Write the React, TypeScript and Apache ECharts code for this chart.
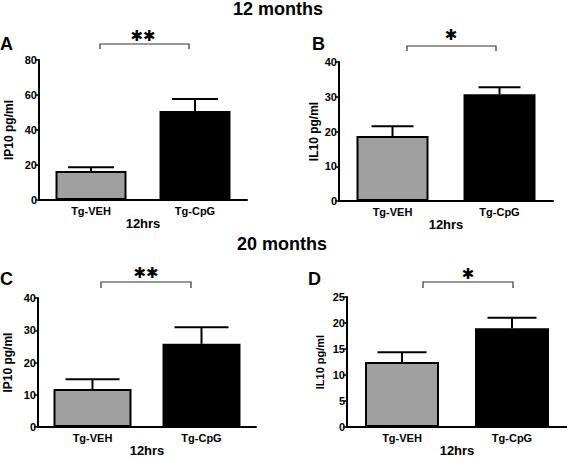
import React, { useEffect, useRef } from "react";
import * as echarts from "echarts";

const categories = ["Tg-VEH", "Tg-CpG"];
const xName = "12hrs";
const panelLetters = ["A", "B", "C", "D"];
const yNames = ["IP10 pg/ml", "IL10 pg/ml", "IP10 pg/ml", "IL10 pg/ml"];
const yMax = [80, 40, 40, 25];
const yInterval = [20, 10, 10, 5];
const meansA = [16.6, 50.9];
const errTopA = [18.7, 57.7];
const meansB = [18.7, 30.7];
const errTopB = [21.5, 32.7];
const meansC = [11.8, 25.8];
const errTopC = [14.8, 30.9];
const meansD = [12.5, 19.0];
const errTopD = [14.4, 21.0];
const significance = ["**", "*", "**", "*"];
const titles = ["12 months", "20 months"];

const FONT = "'Liberation Sans', Arial, sans-serif";

const grids = [
  { left: 39, top: 60, width: 208, height: 140 },
  { left: 339, top: 62, width: 214, height: 139 },
  { left: 38, top: 298, width: 218, height: 139 },
  { left: 347, top: 297, width: 220, height: 139 },
];
const barWidths = [71, 72, 78, 74];
const capWidths = [46, 42, 54, 49];
const yNameGaps = [24, 19, 24, 22];
const yNameSizes = [12, 12, 12, 11];
const brackets = [
  { x1: 100, x2: 189, y: 44, leg: 5, sx: 143, sy: 36 },
  { x1: 407, x2: 496, y: 46, leg: 5, sx: 451, sy: 35 },
  { x1: 101, x2: 191, y: 282, leg: 6, sx: 146, sy: 273 },
  { x1: 423, x2: 513, y: 282, leg: 6, sx: 468, sy: 274 },
];
const letterPos = [
  { x: 0, y: 44 },
  { x: 312, y: 44 },
  { x: 0, y: 279 },
  { x: 308, y: 279 },
];
const titlePos = [
  { x: 278, y: 9 },
  { x: 282, y: 244 },
];

const BAR_COLORS = ["#a0a0a0", "#000000"];

export default function App() {
  const ref = useRef<HTMLDivElement>(null);
  useEffect(() => {
    if (!ref.current) return;
    const chart = echarts.init(ref.current, null, { renderer: "svg" });
    const means = [meansA, meansB, meansC, meansD];
    const tops = [errTopA, errTopB, errTopC, errTopD];

    const xAxis = grids.map((_, i) => ({
      type: "category",
      gridIndex: i,
      data: categories,
      axisLine: { lineStyle: { color: "#000", width: 2 } },
      axisTick: { show: false },
      axisLabel: {
        color: "#000",
        fontWeight: "bold",
        fontSize: 11,
        fontFamily: FONT,
        margin: 5,
      },
      name: xName,
      nameLocation: "middle",
      nameGap: 12,
      nameTextStyle: {
        color: "#000",
        fontWeight: "bold",
        fontSize: 13,
        fontFamily: FONT,
      },
    }));

    const yAxis = grids.map((_, i) => ({
      type: "value",
      gridIndex: i,
      min: 0,
      max: yMax[i],
      interval: yInterval[i],
      splitLine: { show: false },
      axisLine: { show: true, lineStyle: { color: "#000", width: 2 } },
      axisTick: { show: true, length: 4, lineStyle: { color: "#000", width: 1.5 } },
      axisLabel: {
        color: "#000",
        fontWeight: "bold",
        fontSize: 11,
        fontFamily: FONT,
        margin: 2,
      },
      name: yNames[i],
      nameLocation: "middle",
      nameGap: yNameGaps[i],
      nameTextStyle: {
        color: "#000",
        fontWeight: "bold",
        fontSize: yNameSizes[i],
        fontFamily: FONT,
      },
    }));

    const series: any[] = [];
    grids.forEach((_, i) => {
      series.push({
        type: "bar",
        xAxisIndex: i,
        yAxisIndex: i,
        barWidth: barWidths[i],
        data: means[i].map((v, j) => ({
          value: v,
          itemStyle: {
            color: BAR_COLORS[j],
            borderColor: "#000",
            borderWidth: 2,
          },
        })),
        z: 2,
      });
      const cw = capWidths[i];
      series.push({
        type: "custom",
        xAxisIndex: i,
        yAxisIndex: i,
        z: 3,
        encode: { x: 0, y: [1, 2] },
        data: means[i].map((v, j) => [j, v, tops[i][j]]),
        renderItem: (params: any, api: any) => {
          const xi = api.value(0);
          const p0 = api.coord([xi, api.value(1)]);
          const p1 = api.coord([xi, api.value(2)]);
          const st = { stroke: "#000", lineWidth: 2 };
          return {
            type: "group",
            children: [
              {
                type: "line",
                shape: { x1: p0[0], y1: p0[1], x2: p1[0], y2: p1[1] },
                style: st,
              },
              {
                type: "line",
                shape: { x1: p1[0] - cw / 2, y1: p1[1], x2: p1[0] + cw / 2, y2: p1[1] },
                style: st,
              },
            ],
          };
        },
      });
    });

    const graphic: any[] = [];
    titles.forEach((t, i) => {
      graphic.push({
        type: "text",
        x: titlePos[i].x,
        y: titlePos[i].y,
        style: {
          text: t,
          fontSize: 18,
          fontWeight: "bold",
          fontFamily: FONT,
          fill: "#000",
          align: "center",
          verticalAlign: "middle",
        },
      });
    });
    panelLetters.forEach((l, i) => {
      graphic.push({
        type: "text",
        x: letterPos[i].x,
        y: letterPos[i].y,
        style: {
          text: l,
          fontSize: 18,
          fontWeight: "bold",
          fontFamily: FONT,
          fill: "#000",
          align: "left",
          verticalAlign: "middle",
        },
      });
    });
    brackets.forEach((b, i) => {
      graphic.push({
        type: "polyline",
        shape: {
          points: [
            [b.x1, b.y + b.leg],
            [b.x1, b.y],
            [b.x2, b.y],
            [b.x2, b.y + b.leg],
          ],
        },
        style: { stroke: "#333", lineWidth: 1.2, fill: null },
      });
      graphic.push({
        type: "text",
        x: b.sx,
        y: b.sy,
        style: {
          text: significance[i].replace(/\*/g, "\u2731"),
          fontSize: 15,
          fontFamily: "'DejaVu Sans', sans-serif",
          fill: "#000",
          align: "center",
          verticalAlign: "middle",
        },
      });
    });

    chart.setOption({
      animation: false,
      backgroundColor: "#fff",
      grid: grids.map((g) => ({ ...g })),
      xAxis,
      yAxis,
      series,
      graphic,
    });
    return () => chart.dispose();
  }, []);
  return (
    <div
      ref={ref}
      style={{ position: "fixed", left: 0, top: 0, width: 567, height: 458 }}
    />
  );
}
